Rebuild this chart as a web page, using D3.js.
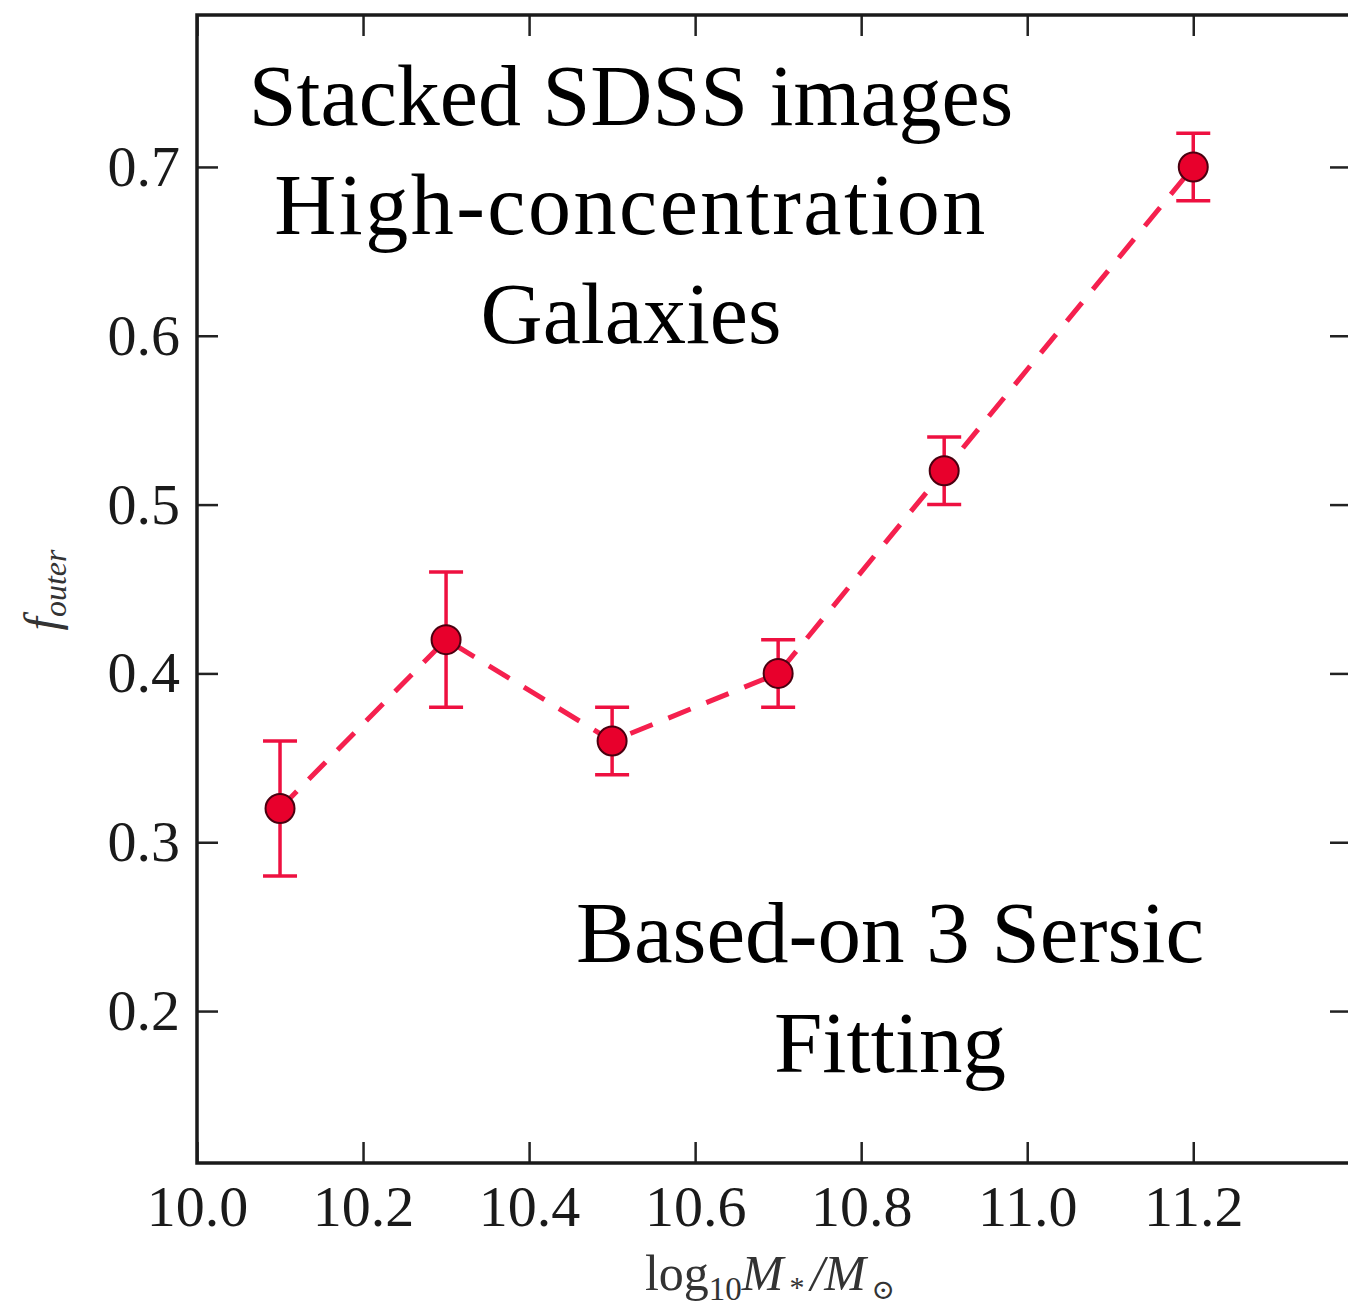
<!DOCTYPE html>
<html>
<head>
<meta charset="utf-8">
<script src="https://cdn.jsdelivr.net/npm/d3@7"></script>
<style>
  body { margin: 0; background: #fff; }
  svg { display: block; }
</style>
</head>
<body>
<div id="chart"></div>
<script>
// stellar mass bins and f_outer values
var mass = [10.1, 10.3, 10.5, 10.7, 10.9, 11.2];
var fOuter = [0.32, 0.42, 0.36, 0.40, 0.52, 0.70];
var fErr = [0.04, 0.04, 0.02, 0.02, 0.02, 0.02];
var xTicks = [10.0, 10.2, 10.4, 10.6, 10.8, 11.0, 11.2];
var yTicks = [0.2, 0.3, 0.4, 0.5, 0.6, 0.7];
var topNote = ["Stacked SDSS images", "High-concentration", "Galaxies"];
var bottomNote = ["Based-on 3 Sersic", "Fitting"];

var width = 1348, height = 1308;
var pLeft = 197, pTop = 15, pBottom = 1163, pRight = 1351;

var svg = d3.select('#chart').append('svg').attr('width', width).attr('height', height);

var x = d3.scaleLinear().domain([10.0, 11.39]).range([pLeft, pRight]);
var y = d3.scaleLinear().domain([0.11, 0.79]).range([pBottom, pTop]);

var tickFont = "'Liberation Serif', 'DejaVu Serif', serif";
var tickLen = 21;

// axes, ticks pointing inward on all four sides
var gx = svg.append('g').attr('transform', 'translate(0,' + pBottom + ')')
    .call(d3.axisBottom(x).tickValues(xTicks).tickFormat(d3.format('.1f')).tickSizeInner(-tickLen).tickSizeOuter(0).tickPadding(22));
var gxt = svg.append('g').attr('transform', 'translate(0,' + pTop + ')')
    .call(d3.axisTop(x).tickValues(xTicks).tickFormat('').tickSizeInner(-tickLen).tickSizeOuter(0));
var gy = svg.append('g').attr('transform', 'translate(' + pLeft + ',0)')
    .call(d3.axisLeft(y).tickValues(yTicks).tickFormat(d3.format('.1f')).tickSizeInner(-tickLen).tickSizeOuter(0).tickPadding(17));
var gyr = svg.append('g').attr('transform', 'translate(' + pRight + ',0)')
    .call(d3.axisRight(y).tickValues(yTicks).tickFormat('').tickSizeInner(-tickLen).tickSizeOuter(0));

[gx, gxt, gy, gyr].forEach(function (g) {
    g.select('.domain').remove();
    g.selectAll('.tick line').attr('stroke', '#222').attr('stroke-width', 2.5);
    g.selectAll('.tick text').attr('fill', '#1a1a1a').style('font-family', tickFont).style('font-size', '58px');
});

// frame
svg.append('rect').attr('x', pLeft).attr('y', pTop).attr('width', pRight - pLeft).attr('height', pBottom - pTop)
    .attr('fill', 'none').attr('stroke', '#1a1a1a').attr('stroke-width', 3.5);

// dashed connecting line
var pts = mass.map(function (m, i) { return [m, fOuter[i], fErr[i]]; });
var line = d3.line().x(function (d) { return x(d[0]); }).y(function (d) { return y(d[1]); });
svg.append('path').datum(pts).attr('d', line)
    .attr('fill', 'none').attr('stroke', '#f5204e').attr('stroke-width', 5)
    .attr('stroke-dasharray', '24,17');

// error bars
var eb = svg.append('g').attr('stroke', '#ee1040').attr('stroke-width', 3.5);
pts.forEach(function (d) {
    var cx = x(d[0]);
    eb.append('line').attr('x1', cx).attr('x2', cx).attr('y1', y(d[1] - d[2])).attr('y2', y(d[1] + d[2]));
    eb.append('line').attr('x1', cx - 17).attr('x2', cx + 17).attr('y1', y(d[1] - d[2])).attr('y2', y(d[1] - d[2]));
    eb.append('line').attr('x1', cx - 17).attr('x2', cx + 17).attr('y1', y(d[1] + d[2])).attr('y2', y(d[1] + d[2]));
});

// markers
svg.append('g').selectAll('circle').data(pts).enter().append('circle')
    .attr('cx', function (d) { return x(d[0]); })
    .attr('cy', function (d) { return y(d[1]); })
    .attr('r', 14.5)
    .attr('fill', '#e8002c').attr('stroke', '#4a0010').attr('stroke-width', 2);

// annotations
var noteFont = "'Liberation Serif', serif";
topNote.forEach(function (t, i) {
    svg.append('text').attr('x', 631).attr('y', 125 + i * 109).attr('text-anchor', 'middle')
        .style('font-family', noteFont).style('font-size', '86px').attr('fill', '#000')
        .style('letter-spacing', i == 1 ? '2.5px' : '0px').text(t);
});
bottomNote.forEach(function (t, i) {
    svg.append('text').attr('x', 890).attr('y', 962 + i * 110).attr('text-anchor', 'middle')
        .style('font-family', noteFont).style('font-size', '87px').attr('fill', '#000').text(t);
});

// axis labels
var xl = svg.append('text').attr('x', 770).attr('y', 1290).attr('text-anchor', 'middle')
    .style('font-family', tickFont).style('font-size', '50px').attr('fill', '#333');
xl.append('tspan').text('log');
xl.append('tspan').attr('dy', 10).style('font-size', '33px').text('10');
xl.append('tspan').attr('dy', -10).style('font-style', 'italic').text('M');
xl.append('tspan').attr('dy', 7).style('font-size', '30px').text('\u2009*\u2009');
xl.append('tspan').attr('dy', -7).style('font-style', 'italic').text('/M');
xl.append('tspan').attr('dy', 9).style('font-size', '28px').text('\u2009\u2299');

var yl = svg.append('text').attr('transform', 'translate(58,590) rotate(-90)').attr('text-anchor', 'middle')
    .style('font-family', tickFont).style('font-size', '48px').style('font-style', 'italic').attr('fill', '#333');
yl.append('tspan').text('f');
yl.append('tspan').attr('dy', 8).style('font-size', '32px').text('outer');
</script>
</body>
</html>
